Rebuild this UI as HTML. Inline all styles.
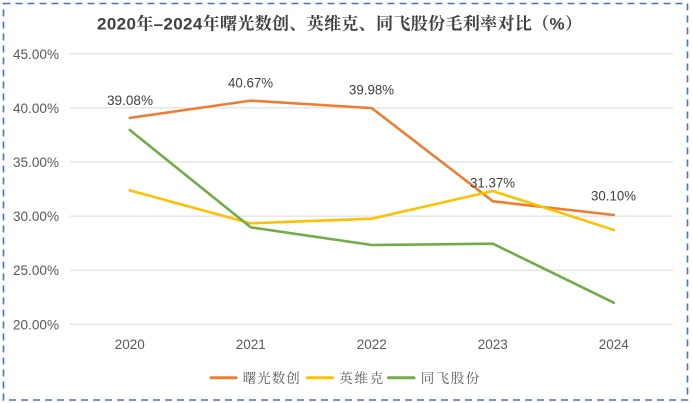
<!DOCTYPE html>
<html><head><meta charset="utf-8"><style>
html,body{margin:0;padding:0;background:#fff;}
svg{display:block;}
text{font-family:"Liberation Sans","Noto Sans CJK SC",sans-serif;}
.serif{font-family:"Liberation Sans","Noto Serif CJK SC",serif;}
</style></head><body>
<svg width="692" height="403" viewBox="0 0 692 403" xmlns="http://www.w3.org/2000/svg">
<rect x="0" y="0" width="692" height="403" fill="#fff"/>
<rect x="3.5" y="3.5" width="684" height="396.5" fill="none" stroke="#4472C4" stroke-width="1.6" stroke-dasharray="7,5"/>
<text class="serif" x="97" y="29.5" font-size="17" font-weight="bold" fill="#404040" textLength="485" lengthAdjust="spacing">2020年–2024年曙光数创、英维克、同飞股份毛利率对比（%）</text>
<g stroke="#D9D9D9" stroke-width="1">
<line x1="70" y1="53.8" x2="673" y2="53.8"/>
<line x1="70" y1="107.9" x2="673" y2="107.9"/>
<line x1="70" y1="162" x2="673" y2="162"/>
<line x1="70" y1="216.1" x2="673" y2="216.1"/>
<line x1="70" y1="270.2" x2="673" y2="270.2"/>
<line x1="70" y1="324.3" x2="673" y2="324.3"/>
</g>
<g font-size="14" fill="#595959">
<text x="13" y="58.8" textLength="46" lengthAdjust="spacingAndGlyphs">45.00%</text>
<text x="13" y="112.9" textLength="46" lengthAdjust="spacingAndGlyphs">40.00%</text>
<text x="13" y="167" textLength="46" lengthAdjust="spacingAndGlyphs">35.00%</text>
<text x="13" y="221.1" textLength="46" lengthAdjust="spacingAndGlyphs">30.00%</text>
<text x="13" y="275.2" textLength="46" lengthAdjust="spacingAndGlyphs">25.00%</text>
<text x="13" y="329.3" textLength="46" lengthAdjust="spacingAndGlyphs">20.00%</text>
</g>
<g font-size="13.5" fill="#595959" text-anchor="middle">
<text x="129.8" y="349">2020</text>
<text x="250.8" y="349">2021</text>
<text x="371.8" y="349">2022</text>
<text x="492.8" y="349">2023</text>
<text x="613.8" y="349">2024</text>
</g>
<g fill="none" stroke-width="2.6" stroke-linejoin="round" stroke-linecap="round">
<polyline stroke="#ED7D31" points="129.8,117.85 250.8,100.65 371.8,108.12 492.8,201.28 613.8,215.02"/>
<polyline stroke="#FFC000" points="129.8,190.35 250.8,223.35 371.8,218.7 492.8,191 613.8,229.95"/>
<polyline stroke="#70AD47" points="129.8,129.97 250.8,227.35 371.8,245 492.8,243.69 613.8,302.66"/>
</g>
<g font-size="14" fill="#404040">
<text x="107" y="105" textLength="46" lengthAdjust="spacingAndGlyphs">39.08%</text>
<text x="228" y="87.7" textLength="45" lengthAdjust="spacingAndGlyphs">40.67%</text>
<text x="349" y="94.3" textLength="45" lengthAdjust="spacingAndGlyphs">39.98%</text>
<text x="470" y="187.3" textLength="45" lengthAdjust="spacingAndGlyphs">31.37%</text>
<text x="591" y="200.7" textLength="45" lengthAdjust="spacingAndGlyphs">30.10%</text>
</g>
<g stroke-width="3" stroke-linecap="round">
<line x1="211" y1="377.7" x2="236" y2="377.7" stroke="#ED7D31"/>
<line x1="307.5" y1="377.7" x2="332.5" y2="377.7" stroke="#FFC000"/>
<line x1="388.5" y1="377.7" x2="414" y2="377.7" stroke="#70AD47"/>
</g>
<g font-size="13.5" fill="#595959" class="serif">
<text class="serif" x="242.7" y="383" textLength="57" lengthAdjust="spacing">曙光数创</text>
<text class="serif" x="339.3" y="383" textLength="44" lengthAdjust="spacing">英维克</text>
<text class="serif" x="420.7" y="383" textLength="58.6" lengthAdjust="spacing">同飞股份</text>
</g>
</svg>
</body></html>
